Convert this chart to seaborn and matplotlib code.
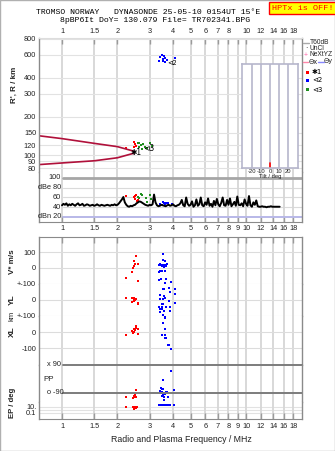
import numpy as np
import pandas as pd
import matplotlib
matplotlib.use("Agg")
import matplotlib.pyplot as plt
import seaborn as sns
from matplotlib.ticker import FixedLocator, FixedFormatter, NullLocator
from matplotlib.patches import Rectangle

sns.set_style("white")
plt.rcParams['font.family'] = ['Liberation Sans', 'DejaVu Sans']

# ---------------- data ----------------
freq_ticks = [1, 1.5, 2, 3, 4, 5, 6, 7, 8, 9, 10, 12, 14, 16, 18]
freq_labels = ["1", "1.5", "2", "3", "4", "5", "6", "7", "8", "9", "10", "12", "14", "16", "18"]
freq_labels_top = ["1", "1.5", "2", "3", "4", "5", "6", "7", "8", "", "10", "12", "14", "16", "18"]

height_ticks = [80, 90, 100, 120, 150, 200, 300, 400, 600, 800]

# model traces (virtual height)
trace_f = [0.75, 1.0, 1.5, 2.0, 2.45]
trace_upper = [142, 135, 124, 117, 108]
trace_lower = [85, 87.5, 91, 96, 104]

# echoes in height panel
h_red_f = [2.46, 2.50, 2.53, 2.23, 2.46]
h_red_h = [128, 123, 118.5, 114, 116]
h_green_f = [2.58, 2.63, 2.68, 2.75, 2.63, 2.83, 3.01, 3.07, 2.88, 2.71]
h_green_h = [124, 125.5, 120.5, 123, 117, 116, 124, 119, 114, 112]
h_blue_f = [3.48, 3.58, 3.41, 3.63, 3.53, 3.38, 3.55, 3.71, 4.11, 3.63]
h_blue_h = [601, 590, 577, 567, 557, 534, 534, 543, 567, 524]

# amplitude trace (dB) on a log frequency grid 1.0 .. 15.2 MHz
amp_db = [44, 47, 45, 48, 43, 46, 44, 47, 45, 43, 46, 48, 44, 45, 47, 43, 44, 46, 45, 43,
          44, 45, 43, 44, 46, 44, 43, 45, 44, 43, 44, 45, 44, 43, 45, 44, 46, 44,
          45, 48, 52, 56, 61,
          50, 45, 42, 41, 43, 42,
          44, 45, 48, 50, 52, 51, 49, 47, 45, 44,
          43, 45, 44, 46,
          66,
          50, 44, 42, 43, 45, 44, 43, 42, 44, 45, 43, 44, 46, 43, 42, 44, 45,
          48, 55, 44, 42, 60, 47, 43, 45, 52, 41, 44, 56, 43, 46, 60, 44, 42, 50, 45, 58,
          43, 47, 41, 53, 44, 57, 46, 42, 49, 60, 44, 43, 55, 45, 58, 42, 46, 51, 43, 62,
          45, 44, 48, 42, 56, 47, 43, 63, 44, 41, 50, 45, 54, 42,
          41, 41, 42, 41, 41, 40, 41, 41, 42, 41, 41, 41, 41, 41, 41]
amp_f = np.geomspace(1.0, 15.2, len(amp_db))

a_red_f = [2.22, 2.45, 2.50, 2.48, 2.55, 2.58, 2.53]
a_red_db = [63, 60, 64, 56, 53, 55, 66]
a_green_f = [2.60, 2.68, 2.72, 2.63, 2.85, 3.02, 3.05, 2.90]
a_green_db = [62, 67, 65, 58, 58, 65, 56, 50]
a_blue_f = [3.40, 3.52, 3.58, 3.63, 3.75, 3.95, 3.47, 3.68]
a_blue_db = [47, 50, 48, 46, 48, 47, 45, 49]

# V* (m/s)
v_red_f = [2.52, 2.45, 2.58, 2.48, 2.45, 2.43, 2.41, 2.22, 2.58]
v_red = [77, 46, 27, 23, 12, 0, -25, -62, -79]
v_blue_f = [3.53, 3.53, 3.63, 3.42, 3.38, 3.46, 3.55, 3.63, 3.71, 3.50, 3.69, 3.58,
            3.42, 3.50, 3.64, 3.37, 3.35, 3.45, 3.66, 3.63, 3.90]
v_blue = [89, 50, 42, 25, 19, 17, 17, 21, 27, 12, 12, 6,
          -19, -19, -19, -27, -75, -69, -69, -92, -87]

# YL (km)
yl_red_f = [2.22, 2.41, 2.46, 2.52, 2.45, 2.50, 2.41, 2.46, 2.58, 2.58]
yl_red = [14, 10, 10, 8, 0, 2, -10, -8, -17, -25]
yl_blue_f = [3.54, 3.60, 3.82, 4.10, 3.85, 4.10, 3.41, 3.57, 3.42, 3.53, 3.61, 3.80,
             4.10, 3.55, 3.51, 3.35, 3.48, 3.66, 3.88, 3.41, 3.48, 3.60, 3.41, 3.88, 3.55]
yl_blue = [70, 70, 77, 67, 52, 37, 31, 25, 6, 8, 11, -6,
           -17, -23, -27, -44, -44, -42, -42, -54, -54, -67, -77, -67, -94]

# XL (km)
xl_red_f = [2.52, 2.53, 2.45, 2.58, 2.48, 2.41, 2.45, 2.22, 2.43, 2.58]
xl_red = [37, 27, 19, 19, 10, 8, -2, -17, -6, -12]
xl_blue_f = [3.64, 3.61, 3.53, 3.61, 3.48, 3.63, 3.61, 3.69, 3.74, 3.82, 3.90]
xl_blue = [92, 89, 58, 21, -19, -19, -36, -36, -83, -79, -104]

# PP (deg)
pp_red_f = [2.53, 2.22, 2.45, 2.48, 2.43, 2.53, 2.50]
pp_red = [-74, -114, -109, -114, -122, -118, -103]
pp_blue_f = [3.90, 3.52, 3.45, 3.50, 3.55, 3.40, 3.43, 3.50, 3.58, 3.65, 3.70, 3.62,
             3.55, 3.48, 3.57, 4.05, 3.75, 3.60]
pp_blue = [51, -6, -60, -66, -62, -77, -92, -84, -88, -84, -82, -98,
           -103, -109, -118, -71, -118, -135]

# EP (deg)
ep_red_f = [2.22, 2.43, 2.48, 2.53, 2.45, 2.56]
ep_red = [12, 8, 12, 5, 3, 7]
ep_blue_f = [3.38, 3.42, 3.47, 3.52, 3.56, 3.60, 3.64, 3.68, 3.72, 3.78, 3.85, 4.05]
ep_blue = [37, 37, 37, 37, 37, 37, 37, 37, 37, 37, 37, 37]

tilt_ticks = [-20, -10, 0, 10, 20]

# ---------------- figure ----------------
W, H = 335, 451
fig = plt.figure(figsize=(W / 100, H / 100), dpi=100)


def box(l, t, r, b):
    return fig.add_axes([l / W, 1 - b / H, (r - l) / W, (b - t) / H])


SPC = '#8a8a8a'
GRID = '#d6d6d6'
TXT = '#222222'
FS = 5.3
MS = 3.6

XLFT, XRGT = 39, 302
ax_h = box(XLFT, 38, XRGT, 172)
ax_a = box(XLFT, 172, XRGT, 222)
ax_v = box(XLFT, 237, XRGT, 284)
ax_y = box(XLFT, 284, XRGT, 316)
ax_x = box(XLFT, 316, XRGT, 365)
ax_p = box(XLFT, 365, XRGT, 402)
ax_e = box(XLFT, 402, XRGT, 419)


def setup(ax, top=False, bottom=False, ltop=False, lbottom=False, labels=freq_labels):
    ax.set_xscale('log')
    ax.set_xlim(0.75, 20.1)
    ax.xaxis.set_major_locator(FixedLocator(freq_ticks))
    ax.xaxis.set_major_formatter(FixedFormatter(labels))
    ax.xaxis.set_minor_locator(NullLocator())
    ax.grid(axis='x', color=GRID, lw=1.3)
    ax.set_axisbelow(True)
    for s in ['left', 'right']:
        ax.spines[s].set_color(SPC)
        ax.spines[s].set_linewidth(1.0)
    ax.spines['top'].set_visible(top)
    ax.spines['bottom'].set_visible(bottom)
    ax.spines['top'].set_color(SPC)
    ax.spines['bottom'].set_color(SPC)
    ax.tick_params(axis='x', which='major', direction='in', length=4, width=1,
                   color='#9a9a9a', top=top, bottom=bottom,
                   labeltop=ltop, labelbottom=lbottom, labelsize=FS,
                   labelcolor=TXT, pad=2)
    ax.tick_params(axis='y', length=0, labelsize=FS, labelcolor=TXT, pad=2)
    ax.set_xlabel('')
    ax.set_ylabel('')


def dots(ax, xs, ys, col):
    sns.scatterplot(x=xs, y=ys, ax=ax, color=col, marker='s', s=MS, linewidth=0,
                    legend=False)


RED, GREEN, BLUE = '#ff0000', '#1f8f1f', '#0000ff'

# ---- height panel ----
setup(ax_h, top=True, ltop=True, labels=freq_labels_top)
ax_h.set_yscale('log')
ax_h.set_ylim(74.5, 810)
ax_h.yaxis.set_major_locator(FixedLocator(height_ticks))
ax_h.yaxis.set_major_formatter(FixedFormatter([str(v) for v in height_ticks]))
ax_h.yaxis.set_minor_locator(NullLocator())
ax_h.grid(axis='y', color='#e2e2e2', lw=0.8)
ax_h.spines['top'].set_color('#dddddd')

sns.lineplot(x=trace_f, y=trace_upper, ax=ax_h, color='#b0103a', lw=1.2,
             sort=False, estimator=None)
sns.lineplot(x=trace_f, y=trace_lower, ax=ax_h, color='#b0103a', lw=1.2,
             sort=False, estimator=None)
dots(ax_h, h_red_f, h_red_h, RED)
dots(ax_h, h_green_f, h_green_h, GREEN)
dots(ax_h, h_blue_f, h_blue_h, BLUE)
ax_h.text(2.52, 106, '✱1', fontsize=5.5, color='black', ha='center', va='center',
          family='DejaVu Sans')
ax_h.text(2.95, 113, '⊲3', fontsize=5.5, color='black', ha='center', va='center',
          family='DejaVu Sans')
ax_h.text(3.95, 522, '⊲2', fontsize=4.8, color='black', ha='center', va='center',
          family='DejaVu Sans')
ax_h.set_xlabel('')

# ---- amplitude panel ----
setup(ax_a, bottom=True, lbottom=True)
ax_a.set_ylim(9.7, 112.3)
ax_a.set_yticks([])
sns.lineplot(x=amp_f, y=amp_db, ax=ax_a, color='black', lw=1.4,
             sort=False, estimator=None)
ytr = ax_a.get_yaxis_transform()
for val, lab in zip([100, 80, 60, 40, 20], ['100', 'dBe 80', '60', '40', 'dBn 20']):
    ax_a.text(0.084, val, lab, transform=ytr, ha='right', va='center', fontsize=FS,
              color=TXT)
ax_a.axhline(100, xmin=0.09, color='#a6a6a6', lw=2.0)
for val in [80, 60, 40]:
    ax_a.axhline(val, xmin=0.09, color='#dadada', lw=0.8, zorder=0)
ax_a.axhline(20, xmin=0.09, color='#b8b8e8', lw=1.4)
dots(ax_a, a_red_f, a_red_db, RED)
dots(ax_a, a_green_f, a_green_db, GREEN)
dots(ax_a, a_blue_f, a_blue_db, BLUE)
ax_a.set_xlabel('')

# ---- V*, YL, XL ----
setup(ax_v, top=True)
ax_v.set_ylim(-100, 193.75)
ax_v.yaxis.set_major_locator(FixedLocator([100, 0, -100]))
ax_v.yaxis.set_major_formatter(FixedFormatter(['100', '0', '+-100']))
ax_v.grid(axis='y', color='#dcdcdc', lw=0.8)
dots(ax_v, v_red_f, v_red, RED)
dots(ax_v, v_blue_f, v_blue, BLUE)

setup(ax_y)
ax_y.set_ylim(-100, 100)
ax_y.yaxis.set_major_locator(FixedLocator([0, -100]))
ax_y.yaxis.set_major_formatter(FixedFormatter(['0', '+-100']))
ax_y.grid(axis='y', color='#dcdcdc', lw=0.8)
dots(ax_y, yl_red_f, yl_red, RED)
dots(ax_y, yl_blue_f, yl_blue, BLUE)

setup(ax_x)
ax_x.set_ylim(-206, 100)
ax_x.yaxis.set_major_locator(FixedLocator([0, -100]))
ax_x.yaxis.set_major_formatter(FixedFormatter(['0', '-100']))
ax_x.grid(axis='y', color='#dcdcdc', lw=0.8)
dots(ax_x, xl_red_f, xl_red, RED)
dots(ax_x, xl_blue_f, xl_blue, BLUE)

# ---- PP ----
setup(ax_p)
ax_p.set_ylim(-148, 90)
ax_p.set_yticks([])
ytr = ax_p.get_yaxis_transform()
ax_p.text(0.03, 90, 'x 90', transform=ytr, ha='left', va='center', fontsize=FS, color=TXT)
ax_p.text(0.03, -90, 'o -90', transform=ytr, ha='left', va='center', fontsize=FS, color=TXT)
ax_p.text(0.016, 0.595, 'PP', transform=ax_p.transAxes, ha='left', va='center',
          fontsize=FS + 0.5, color=TXT)
ax_p.axhline(90, xmin=0.09, color='#7c7c7c', lw=1.4, clip_on=False)
ax_p.axhline(-90, xmin=0.09, color='#7c7c7c', lw=1.4)
dots(ax_p, pp_red_f, pp_red, RED)
dots(ax_p, pp_blue_f, pp_blue, BLUE)

# ---- EP ----
setup(ax_e, bottom=True, lbottom=True)
ax_e.set_yscale('log')
ax_e.set_ylim(0.001, 464)
ax_e.yaxis.set_major_locator(FixedLocator([10, 0.1]))
ax_e.yaxis.set_major_formatter(FixedFormatter(['10.', '0.1']))
ax_e.yaxis.set_minor_locator(NullLocator())
for val in [10, 1, 0.1]:
    ax_e.axhline(val, color='#e2e2e2', lw=0.8, zorder=0)
dots(ax_e, ep_red_f, ep_red, RED)
dots(ax_e, ep_blue_f, ep_blue, BLUE)
ax_e.tick_params(axis='x', pad=3)

# ---- tilt inset ----
ax_t = box(242, 64, 298, 168)
ax_t.set_facecolor('white')
ax_t.set_xlim(-31, 31)
ax_t.set_ylim(0, 1)
for v in tilt_ticks:
    ax_t.axvline(v, color='#b6b6cc', lw=1.2)
for s in ax_t.spines.values():
    s.set_color('#b6b6cc')
    s.set_linewidth(1.2)
ax_t.set_xticks(tilt_ticks)
ax_t.set_xticklabels([str(v) for v in tilt_ticks])
ax_t.set_yticks([])
ax_t.tick_params(axis='x', length=0, labelsize=4.2, pad=1, labelcolor=TXT)
ax_t.set_xlabel('Tilt / deg', fontsize=4.2, labelpad=0, color=TXT)
ax_t.plot([0, 0], [0, 0.05], color='red', lw=1.2)

# ---- titles and labels ----
def ftxt(x, y, s, **kw):
    fig.text(x / W, 1 - y / H, s, **kw)

ftxt(36, 13, 'TROMSO NORWAY   DYNASONDE 25-05-10 0154UT 15°E', family='Liberation Mono',
     fontsize=5.9, va='center', ha='left', color='black')
ftxt(60, 21, '8pBP6It DoY= 130.079 File= TR702341.BPG', family='Liberation Mono',
     fontsize=5.9, va='center', ha='left', color='black')
ftxt(302.5, 8, 'HPTx is OFF!', family='Liberation Mono', fontsize=6.1, va='center',
     ha='center', color='red',
     bbox=dict(facecolor='yellow', edgecolor='red', linewidth=1, pad=1.8))

ftxt(14, 85, "R', R / km", rotation=90, fontsize=5.8, ha='center', va='center',
     color=TXT, fontweight='bold')
ftxt(12, 262, 'V* m/s', rotation=90, fontsize=5.8, ha='center', va='center',
     color=TXT, fontweight='bold')
ftxt(12, 300, 'YL', rotation=90, fontsize=6, ha='center', va='center', color=TXT,
     fontweight='bold')
ftxt(12, 316, 'km', rotation=90, fontsize=5.5, ha='center', va='center', color=TXT)
ftxt(12, 332, 'XL', rotation=90, fontsize=6, ha='center', va='center', color=TXT,
     fontweight='bold')
ftxt(12, 403, 'EP / deg', rotation=90, fontsize=5.6, ha='center', va='center',
     color=TXT, fontweight='bold')
ftxt(111, 440, 'Radio and Plasma Frequency / MHz', fontsize=6.3, ha='left',
     va='center', color=TXT)

# legend block at right
fig.lines.append(plt.Line2D([303 / W, 309 / W], [1 - 43 / H] * 2, color='#aaaaaa', lw=1,
                            transform=fig.transFigure))
ftxt(310, 43, 'T60dB', fontsize=4.8, va='center', ha='left', color=TXT)
ftxt(306, 49, '·', fontsize=5, va='center', ha='center', color='black')
ftxt(310, 49, 'UnCl', fontsize=4.8, va='center', ha='left', color=TXT)
ftxt(306, 55, '+', fontsize=5, va='center', ha='center', color='#ff66aa')
ftxt(310, 55, 'NeXtYZ', fontsize=4.8, va='center', ha='left', color=TXT)
fig.lines.append(plt.Line2D([303 / W, 308 / W], [1 - 61.5 / H] * 2, color='#ff88aa',
                            lw=1, transform=fig.transFigure))
ftxt(308.5, 61.5, 'Θx', fontsize=4.8, va='center', ha='left', color=TXT,
     family='DejaVu Sans')
fig.lines.append(plt.Line2D([318 / W, 324 / W], [1 - 61.5 / H] * 2, color='#8888ff',
                            lw=1, transform=fig.transFigure))
ftxt(324, 61.5, 'Θy', fontsize=4.8, va='center', ha='left', color=TXT,
     family='DejaVu Sans')
for yy, col, lab in [(72.5, '#ff0000', '✱1'), (80.5, '#0000ff', '⊲2'),
                     (89.5, '#1f8f1f', '⊲3')]:
    fig.patches.append(Rectangle((306 / W, 1 - (yy + 1.5) / H), 3 / W, 3 / H,
                                 facecolor=col, edgecolor='none',
                                 transform=fig.transFigure))
    ftxt(312, yy, lab, fontsize=5, va='center', ha='left', color='black',
         family='DejaVu Sans')

fig.patches.append(Rectangle((0, 0), 1, 1, fill=False, edgecolor='#b0b0b0', lw=1,
                             transform=fig.transFigure))

fig.savefig('out.png', dpi=100, facecolor='white')
